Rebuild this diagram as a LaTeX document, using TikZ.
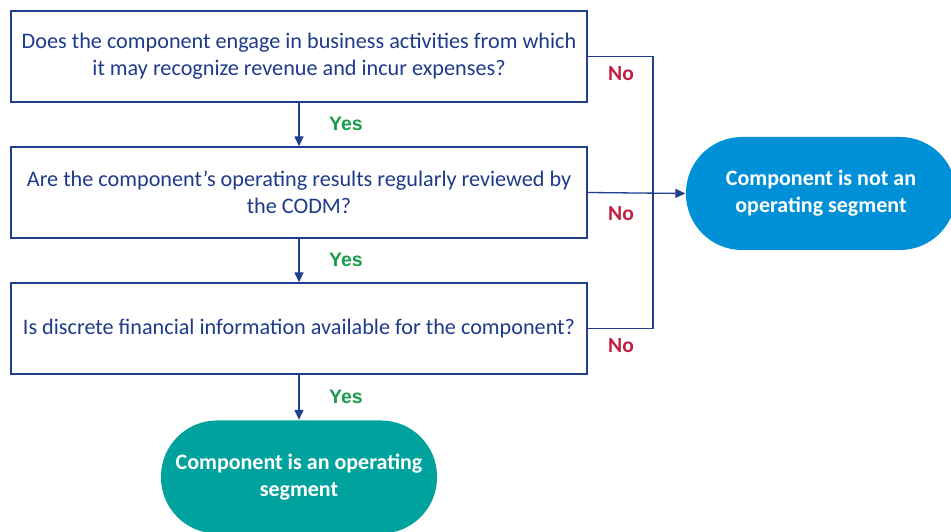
\documentclass[tikz,border=0pt]{standalone}
\usepackage{fontspec}
\setmainfont{Carlito}
\newfontfamily\yesfont{Liberation Sans}
\usepackage{tikz}
\usetikzlibrary{arrows.meta}
\definecolor{navy}{HTML}{1F3F8F}
\definecolor{navytext}{HTML}{1E3A8A}
\definecolor{skyblue}{HTML}{0090D8}
\definecolor{teal}{HTML}{00A29D}
\definecolor{yesgreen}{HTML}{1A9B48}
\definecolor{nored}{HTML}{C41E45}
\tikzset{
  question/.style={rectangle,draw=navy,line width=1.3pt,minimum width=576pt,minimum height=91pt,
    align=center,text=navytext,font={\fontsize{22.2}{27}\selectfont},inner sep=0pt},
  outcome/.style={rectangle,rounded corners=56pt,minimum height=113pt,align=center,text=white,
    font={\fontsize{22}{27}\selectfont\bfseries},inner sep=0pt},
  yes label/.style={text=yesgreen,font={\yesfont\fontsize{19.5}{22}\selectfont\bfseries}},
  no label/.style={text=nored,font={\fontsize{21.5}{22}\selectfont\bfseries}}
}

\begin{document}
\begin{tikzpicture}[x=1pt,y=1pt,line width=1.3pt,
	      flow/.style={draw=navy,-{Triangle[width=9pt,length=10pt]}}
	    ]
        \useasboundingbox (0,0) rectangle (951,532);
        \node [question] (q1) at (299,475.5) {Does the component engage in business activities from which\\it may recognize revenue and incur expenses?};
        \node [question] (q2) at (299,339.5) {Are the component’s operating results regularly reviewed by\\the CODM?};
        \node [question] (q3) at (299,203.5) {Is discrete financial information available for the component?};
        \node [outcome,fill=skyblue,minimum width=270pt] (notseg) at (821,338.5) {Component is not an\\operating segment};
        \node [outcome,fill=teal,minimum width=276pt] (seg) at (299,55) {Component is an operating\\segment};
        \coordinate (join) at (653,475);
        % yes branches
        \draw [flow] (q1.south) -- (q2.north);
        \draw [flow] (q2.south) -- (q3.north);
        \draw [flow] (q3.south) -- (seg.north);
        \node [yes label] (yes1) at (346,408) {Yes};
        \node [yes label] (yes2) at (346,272) {Yes};
        \node [yes label] (yes3) at (346,135) {Yes};
        % no branches
        \draw [navy] (q1.east) -| (join) |- (q3.east);
        \draw [flow] (q2.east) -- (notseg.west);
        \node [no label] (no1) at (621,458) {No};
        \node [no label] (no2) at (621,318) {No};
        \node [no label] (no3) at (621,186) {No};
      \end{tikzpicture}
\end{document}
